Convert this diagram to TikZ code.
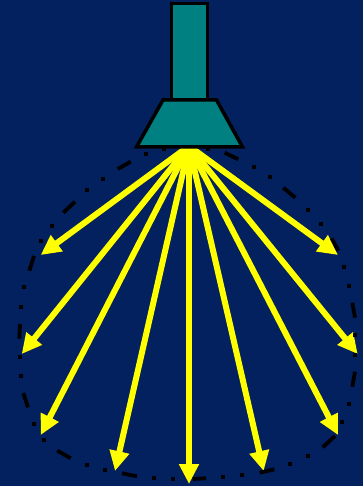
\documentclass[tikz,border=0pt]{standalone}
\usetikzlibrary{arrows.meta}
\definecolor{bgblue}{HTML}{03205F}
\definecolor{lampteal}{HTML}{008080}
\definecolor{rayyellow}{HTML}{FFFF00}
\tikzset{
  lamp/.style={draw=black,fill=lampteal,line width=3.5pt,line join=miter},
  ray/.style={draw=rayyellow,line width=6pt,-{Triangle[length=20pt,width=19pt,fill=rayyellow]}},
  beamdash/.style={draw=black,line width=3.8pt},
  beamdot/.style={fill=black}
}
\begin{document}
\begin{tikzpicture}[x=1pt,y=-1pt]
\useasboundingbox (0,0) rectangle (363,486);
\fill[bgblue] (0,0) rectangle (363,486);
\coordinate (src) at (189,146);
% rays
\foreach \tx/\ty in {40.7/255,21.7/354,40.7/435,115/471,189/484,263.7/471,338/435,357.7/354,338/255}{
  \coordinate (tip) at (\tx,\ty);
  \draw[ray] (src) -- (tip);
}
% lamp
\draw[lamp] (171.7,3.4) rectangle (207.7,100);
\draw[lamp] (163,100) -- (216.5,100) -- (242.5,147) -- (136.5,147) -- cycle;
% beam outline: dashes
\foreach \ax/\ay/\bx/\by in {
 117.7/169/130.7/161.7, 63.3/212.7/75/201.7, 29.3/270.7/34/256, 19.3/338.7/20/324,
 23.3/393/28/407.3, 57.3/450.7/70.7/458.3, 122/473.3/137/476.3, 192.7/479/206/478.3,
 259.7/472.7/274.3/469.3, 322.7/447.3/335/436, 352.3/386.7/355/371.7, 355/317.7/352.3/302.7,
 338.3/250.7/331.7/238.3, 295.3/197.7/283.3/187.7, 238.3/159.3/224.7/152.7}{
  \draw[beamdash] (\ax,\ay) -- (\bx,\by);
}
% beam outline: dots
\foreach \dx/\dy in {
 146/154,102.7/179,87.3/190,52.3/225.7,41.3/241,24.3/287.3,21.3/306.7,19.7/356.7,21.3/375.7,
 33.7/423.7,44.3/439.7,86.7/464.7,105/470,154.3/477.7,173.3/478.7,223/477,242/475,290.3/463.7,
 308.3/456.3,342.3/421.7,348.7/403.7,355/354.7,355.3/335,349.3/285.7,344.3/267,320.7/224,
 307.7/209.7,269.7/177.3,253.7/167,164/149,208/149}{
  \fill[beamdot] (\dx-1.9,\dy-1.9) rectangle (\dx+1.9,\dy+1.9);
}
\end{tikzpicture}
\end{document}
